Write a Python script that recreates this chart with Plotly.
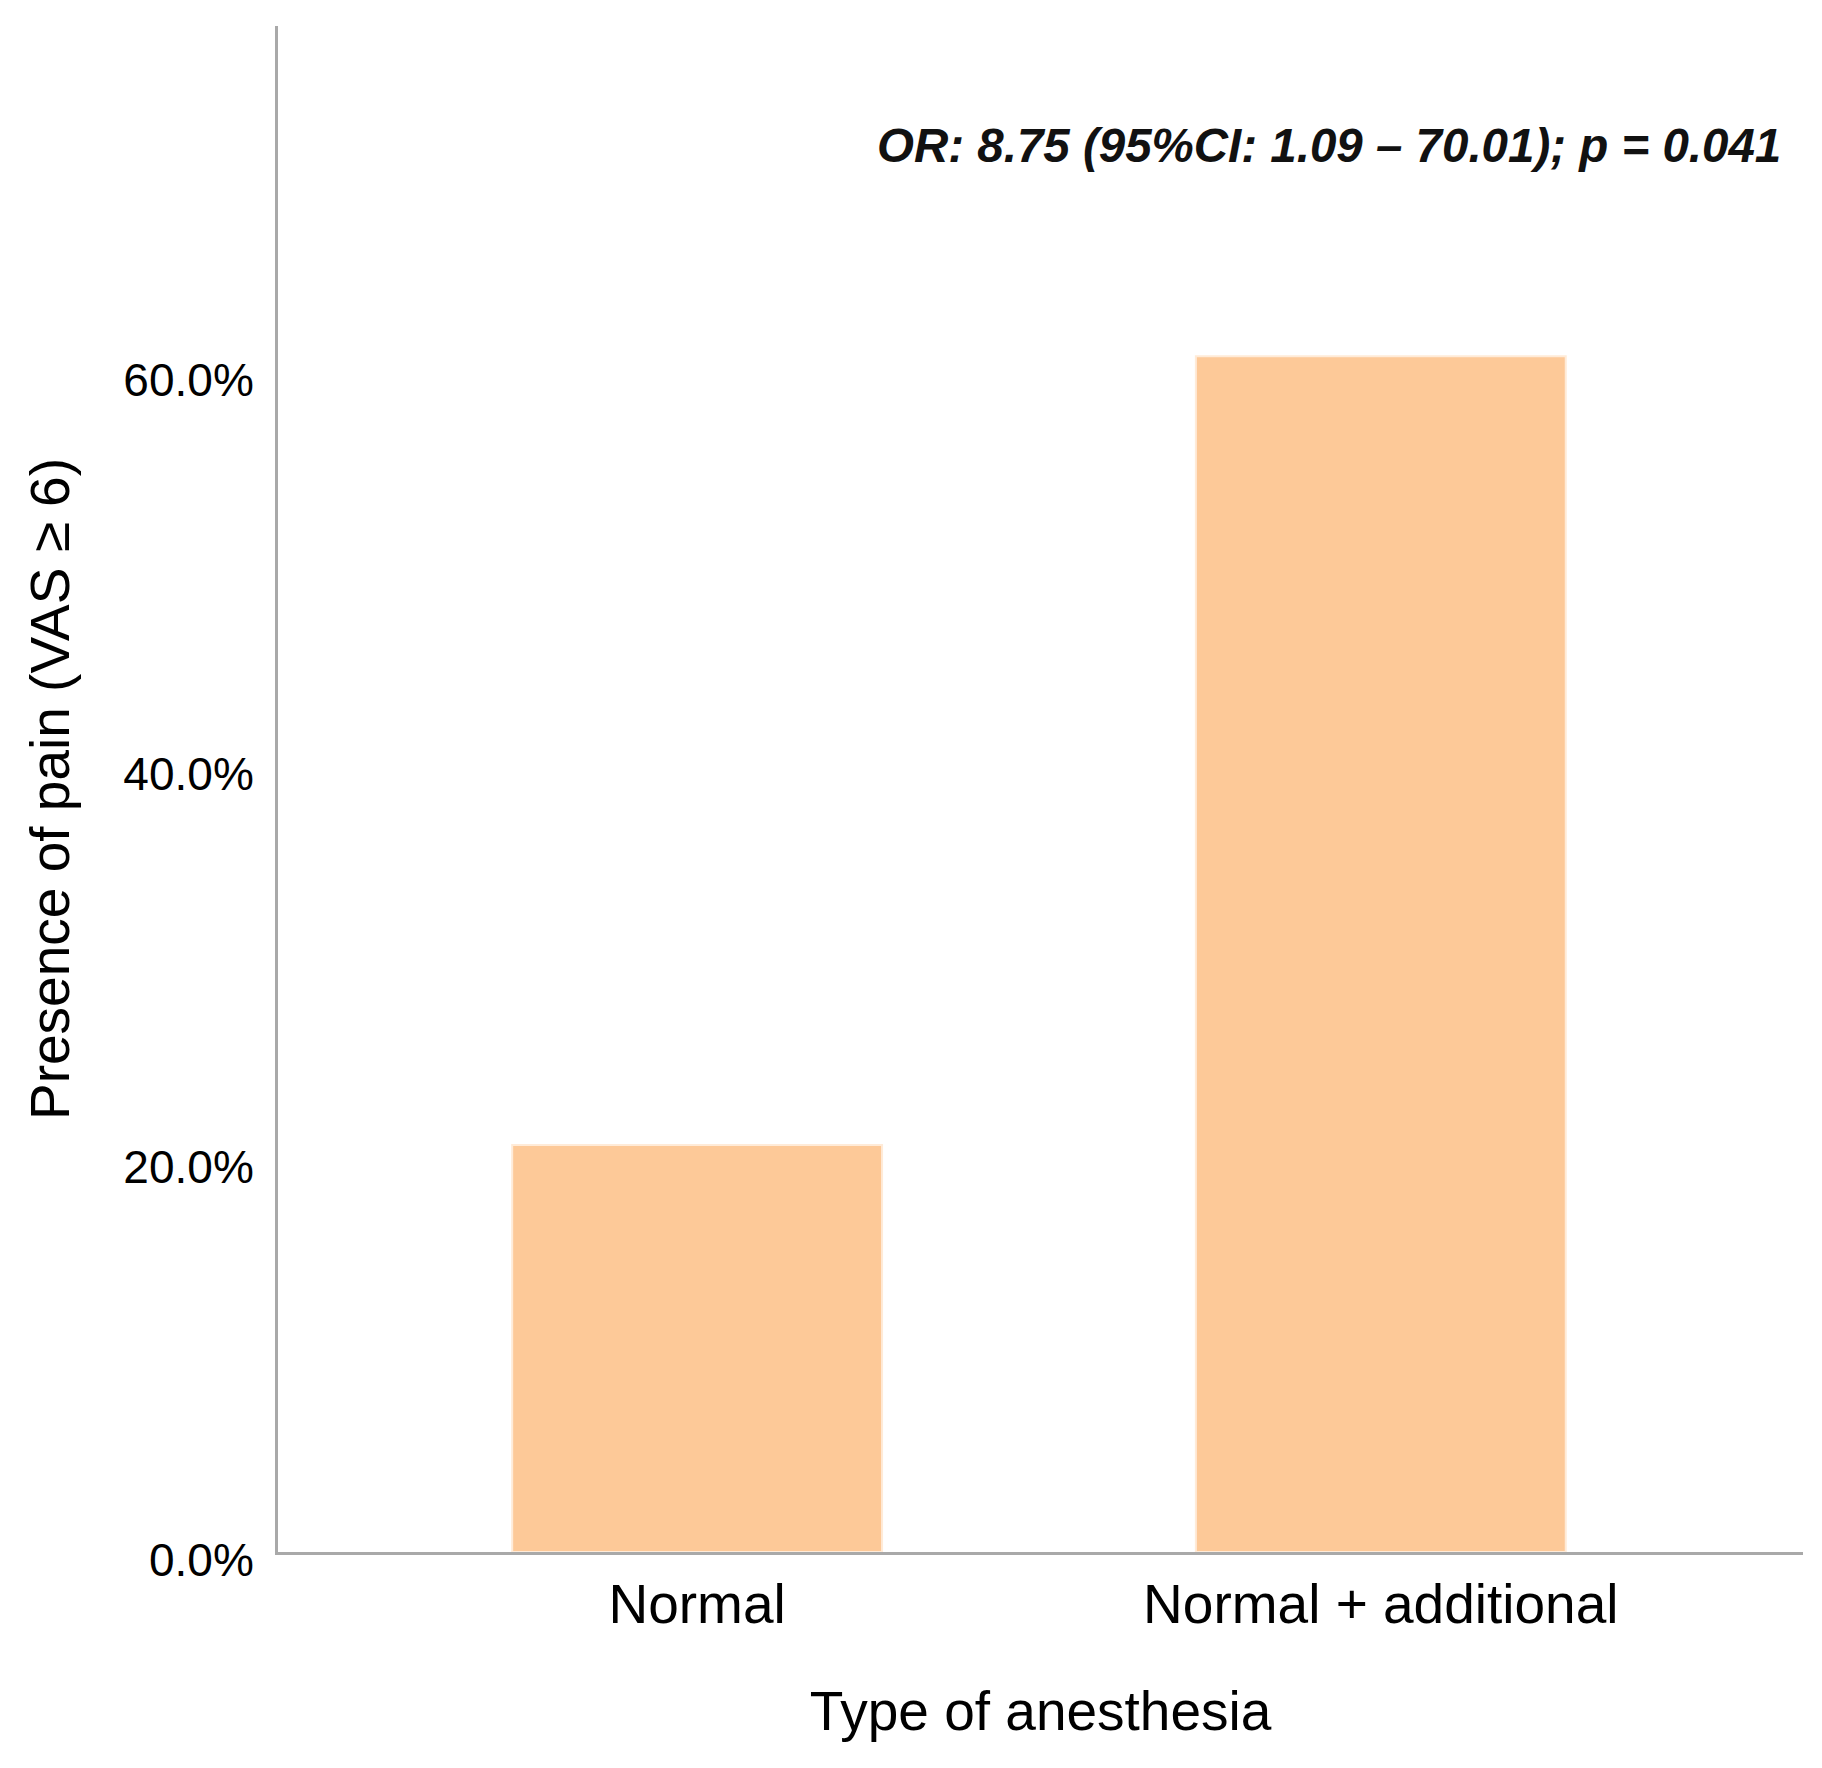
import plotly.graph_objects as go

# data
anesthesia_types = ["Normal", "Normal + additional"]
pain_percent = [20.7, 60.8]
y_ticks = [0, 20, 40, 60]
y_tick_labels = ["0.0%", "20.0%", "40.0%", "60.0%"]
stat_note = "OR: 8.75 (95%CI: 1.09 \u2013 70.01); p = 0.041"

FONT = "Arial, Liberation Sans, sans-serif"
BAR_COLOR = "#FDC998"
AXIS_COLOR = "#A9A9A9"

fig = go.Figure()
fig.add_trace(go.Bar(
    x=anesthesia_types,
    y=pain_percent,
    width=0.541,
    marker=dict(color=BAR_COLOR, line=dict(color="#FFEBD8", width=2)),
    hoverinfo="x+y",
))

fig.update_layout(
    width=1822,
    height=1768,
    margin=dict(l=270, r=27, t=18, b=224),
    paper_bgcolor="white",
    plot_bgcolor="white",
    showlegend=False,
    font=dict(family=FONT, color="black"),
    annotations=[dict(
        text="<b><i>" + stat_note + "</i></b>",
        xref="paper", yref="paper",
        x=0.987, y=0.922,
        xanchor="right", yanchor="middle",
        showarrow=False,
        font=dict(family=FONT, size=47.5, color="#111111"),
    )],
)

fig.update_xaxes(
    range=[-0.613, 1.6175],
    showline=True, linecolor=AXIS_COLOR, linewidth=3,
    showgrid=False, zeroline=False, ticks="",
    tickfont=dict(size=55, family=FONT, color="black"),
    ticklabelstandoff=2,
    title=dict(text="Type of anesthesia", font=dict(size=55, family=FONT, color="black"), standoff=58),
)

fig.update_yaxes(
    range=[0, 77.6],
    tickvals=y_ticks, ticktext=y_tick_labels,
    showline=True, linecolor=AXIS_COLOR, linewidth=3,
    showgrid=False, zeroline=False, ticks="",
    tickfont=dict(size=46, family=FONT, color="black"),
    ticklabelstandoff=12,
    ticklabelshift=8,
    title=dict(text="Presence of pain (VAS \u2265 6)", font=dict(size=55, family=FONT, color="black"), standoff=37),
)

fig.write_html("out.html")
